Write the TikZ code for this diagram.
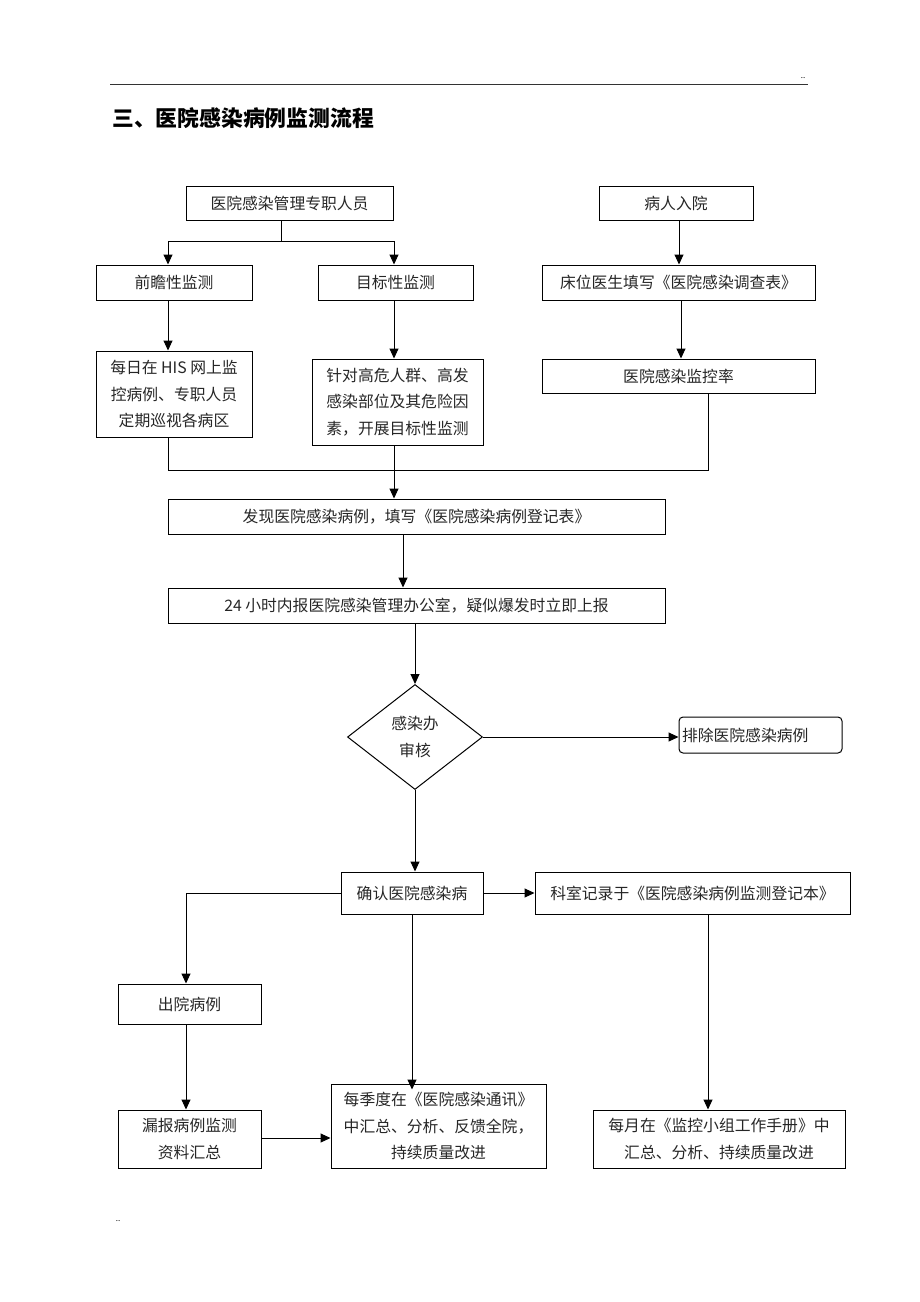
\documentclass[tikz,border=0pt]{standalone}
\usepackage{fontspec}
\setmainfont{Noto Sans CJK SC}
\usetikzlibrary{arrows.meta,shapes.geometric}
\tikzset{
  box/.style={draw=black, line width=1pt, inner sep=0pt, align=center, text=black!85,
    font=\fontsize{15.8}{26.3}\selectfont},
  arr/.style={line width=1pt, -{Triangle[length=10pt,width=9pt]}},
  ln/.style={line width=1pt},
}
\begin{document}
\begin{tikzpicture}[x=1pt,y=-1pt]
\useasboundingbox (0,0) rectangle (920,1302);
% header
\draw[line width=0.9pt, black!80] (110,84) -- (808,84);
\node[font=\fontsize{8}{8}\selectfont, inner sep=0pt] (hd) at (803,78) {..};
\node[font=\fontsize{8}{8}\selectfont, inner sep=0pt] (fd) at (118,1221) {..};
\node[anchor=west, inner sep=0pt, font=\fontsize{21.8}{24}\selectfont\bfseries] (title) at (112,118) {三、医院感染病例监测流程};
% boxes
\node[box, minimum width=207pt, minimum height=34pt] (A) at (289.5,203) {医院感染管理专职人员};
\node[box, minimum width=154pt, minimum height=34pt] (B) at (676,203) {病人入院};
\node[box, minimum width=156pt, minimum height=35pt] (C) at (174,282.5) {前瞻性监测};
\node[box, minimum width=155pt, minimum height=35pt] (D) at (395.5,282.5) {目标性监测};
\node[box, minimum width=273pt, minimum height=35pt] (E) at (678.5,282.5) {床位医生填写《医院感染调查表》};
\node[box, minimum width=156pt, minimum height=86pt] (F) at (174,394) {每日在 HIS 网上监\\控病例、专职人员\\定期巡视各病区};
\node[box, minimum width=171pt, minimum height=86pt] (G) at (397.5,402) {针对高危人群、高发\\感染部位及其危险因\\素，开展目标性监测};
\node[box, minimum width=273pt, minimum height=34pt] (H) at (678.5,376) {医院感染监控率};
\node[box, minimum width=497pt, minimum height=35pt] (I) at (416.5,516.5) {发现医院感染病例，填写《医院感染病例登记表》};
\node[box, minimum width=497pt, minimum height=35pt] (J) at (416.5,605.5) {24 小时内报医院感染管理办公室，疑似爆发时立即上报};
\node[box, diamond, minimum width=135pt, minimum height=105pt, aspect=1.29] (dia) at (415,737) {感染办\\审核};
\node[box, rounded corners=4pt, minimum width=163pt, minimum height=36pt, text width=157pt, align=left] (K) at (760.5,735) {排除医院感染病例};
\node[box, minimum width=142pt, minimum height=42pt] (L) at (412,893) {确认医院感染病};
\node[box, minimum width=315pt, minimum height=42pt] (M) at (692.5,893) {科室记录于《医院感染病例监测登记本》};
\node[box, minimum width=143pt, minimum height=40pt] (N) at (189.5,1004) {出院病例};
\node[box, minimum width=143pt, minimum height=58pt] (O) at (189.5,1139) {漏报病例监测\\资料汇总};
\node[box, minimum width=215pt, minimum height=84pt] (P) at (438.5,1126) {每季度在《医院感染通讯》\\中汇总、分析、反馈全院，\\持续质量改进};
\node[box, minimum width=252pt, minimum height=58pt] (Q) at (719,1139) {每月在《监控小组工作手册》中\\汇总、分析、持续质量改进};
% connectors
\coordinate (s1) at (281,241);
\draw[ln] (s1 |- A.south) -- (s1);
\draw[arr] (s1) -| ([xshift=-6pt]C.north);
\draw[arr] (s1) -| ([xshift=-1.5pt]D.north);
\draw[arr] ([xshift=-6pt]C.south) -- ([xshift=-6pt]F.north);
\draw[arr] ([xshift=-1.5pt]D.south) -- ([xshift=-1.5pt]D.south |- G.north);
\draw[arr] ([xshift=3pt]B.south) -- ([xshift=3pt]B.south |- E.north);
\draw[arr] ([xshift=2.5pt]E.south) -- ([xshift=2.5pt]E.south |- H.north);
\coordinate (m1) at (168,470);
\draw[ln] ([xshift=-6pt]F.south) -- (m1) -| ([xshift=29.5pt]H.south);
\draw[arr] ([xshift=-3.5pt]G.south) -- ([xshift=-3.5pt]G.south |- I.north);
\draw[arr] ([xshift=-13.5pt]I.south) -- ([xshift=-13.5pt]J.north);
\draw[arr] (J.south -| dia.north) -- (dia.north);
\draw[arr] (dia.east) -- (dia.east -| K.west);
\draw[arr] (dia.south) -- (dia.south |- L.north);
\draw[arr] (L.east) -- (M.west);
\draw[arr] (L.west) -| ([xshift=-3.5pt]N.north);
\draw[arr] ([xshift=-3.5pt]N.south) -- ([xshift=-3.5pt]O.north);
\draw[arr] ([yshift=1pt]O.east) -- ([yshift=1pt]O.east -| P.west);
\draw[arr] (L.south) -- ([yshift=-6pt]L.south |- P.north);
\draw[arr] ([xshift=15.5pt]M.south) -- ([xshift=15.5pt]M.south |- Q.north);
\end{tikzpicture}
\end{document}
